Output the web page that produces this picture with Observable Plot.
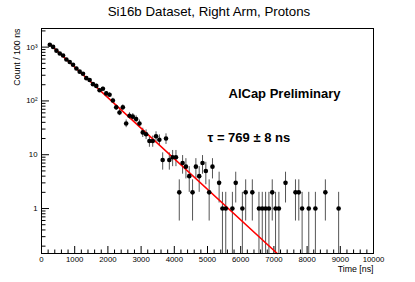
<!DOCTYPE html>
<html>
<head>
<meta charset="utf-8">
<script src="https://cdn.jsdelivr.net/npm/d3@7"></script>
<script src="https://cdn.jsdelivr.net/npm/@observablehq/plot@0.6"></script>
<style>
  html, body { margin: 0; padding: 0; background: #fff; }
  svg { display: block; }
</style>
</head>
<body>
<div id="chart"></div>
<script>
// ---- data ----
const binTime = [250,350,450,550,650,750,850,950,1050,1150,1250,1350,1450,1550,1650,1750,1850,1950,2050,2150,2250,2350,2450,2550,2650,2750,2850,2950,3050,3150,3250,3350,3450,3550,3650,3750,3850,3950,4050,4150,4250,4350,4450,4550,4650,4750,4850,4950,5050,5150,5350,5450,5550,5750,5850,6050,6150,6350,6550,6650,6750,6850,6950,7050,7150,7350,7650,7750,7850,8050,8250,8550,8950];
const binCount = [1110,1010,860,760,700,590,530,470,400,350,320,265,245,205,190,158,168,138,130,102,76,61,76,38,53,51,46,38,26,24,18,18,22,19,8,20,8,9,9,2,7,6,4,2,6,4,7,5,2,6,3,1,1,1,3,1,2,2,1,1,1,1,2,1,1,3,2,2,1,1,1,2,1];
const fitTime = [240, 7100];
const fitCount = [1150, 0.146];
const xTicksMajor = [0,1000,2000,3000,4000,5000,6000,7000,8000,9000,10000];
const xTickLabels = ["0","1000","2000","3000","4000","5000","6000","7000","8000","9000","10000"];
const yTicksMajor = [1, 10, 100, 1000];
const yTickLabels = ["1", "10", "10\u00B2", "10\u00B3"];
const titleText = "Si16b Dataset, Right Arm, Protons";
const xTitle = "Time [ns]";
const yTitle = "Count / 100 ns";
const note1 = "AlCap Preliminary";
const note2 = "\u03C4 = 769 \u00B1 8 ns";

// ---- layout ----
const W = 415, H = 282;
const mL = 41, mR = 42, mT = 28, mB = 29;
const xDomain = [0, 10000];
const yDomain = [0.146, 2218];
const font = "'Liberation Sans', Arial, Helvetica, sans-serif";

const frameW = W - mL - mR, frameH = H - mT - mB;
const pxPerDecade = frameH / (Math.log10(yDomain[1]) - Math.log10(yDomain[0]));
const yUp = (px) => yDomain[0] * Math.pow(10, px / pxPerDecade);
const xRight = (px) => xDomain[0] + px * (xDomain[1] - xDomain[0]) / frameW;

const xMinor = d3.range(0, 10001, 200).filter(v => v % 1000 !== 0);
const yMinor = [];
for (const dec of [0.1, 1, 10, 100, 1000]) for (let k = 2; k <= 9; k++) {
  const v = k * dec; if (v > yDomain[0] && v < yDomain[1]) yMinor.push(v);
}

const data = binTime.map((t, i) => ({t, n: binCount[i]}));
const fit = fitTime.map((t, i) => ({t, n: fitCount[i]}));

const chart = Plot.plot({
  width: W, height: H,
  marginLeft: mL, marginRight: mR, marginTop: mT, marginBottom: mB,
  x: {domain: xDomain, axis: null},
  y: {type: "log", domain: yDomain, axis: null},
  style: {fontFamily: font, background: "#fff"},
  marks: [
    // ticks (inside the frame, ROOT style)
    Plot.ruleX(xTicksMajor, {x: d => d, y1: yDomain[0], y2: yUp(7), stroke: "#000", strokeWidth: 1}),
    Plot.ruleX(xMinor, {x: d => d, y1: yDomain[0], y2: yUp(3.5), stroke: "#000", strokeWidth: 1}),
    Plot.ruleY(yTicksMajor, {y: d => d, x1: 0, x2: xRight(8), stroke: "#000", strokeWidth: 1}),
    Plot.ruleY(yMinor, {y: d => d, x1: 0, x2: xRight(4.5), stroke: "#000", strokeWidth: 1}),
    // error bars
    Plot.ruleX(data, {x: "t", y1: d => Math.max(d.n - Math.sqrt(d.n), yDomain[0]), y2: d => Math.min(d.n + Math.sqrt(d.n), yDomain[1]), stroke: "#555", strokeWidth: 1}),
    // fit
    Plot.line(fit, {x: "t", y: "n", stroke: "#ff0000", strokeWidth: 1.6}),
    // points
    Plot.dot(data, {x: "t", y: "n", r: 2.3, fill: "#000", stroke: "none"}),
    Plot.frame({stroke: "#000", strokeWidth: 1}),
    // tick labels
    Plot.text(xTicksMajor, {x: d => d, frameAnchor: "bottom", dy: 8, lineAnchor: "bottom", text: (d, i) => xTickLabels[i], fontSize: 7.8, fill: "#000"}),
    Plot.text(yTicksMajor, {y: d => d, frameAnchor: "left", dx: -4, textAnchor: "end", lineAnchor: "middle", text: (d, i) => yTickLabels[i], fontSize: 7.8, fill: "#000"}),
    // axis titles
    Plot.text([xTitle], {frameAnchor: "bottom-right", dy: 18.7, textAnchor: "end", lineAnchor: "bottom", fontSize: 8.8, fill: "#000"}),
    Plot.text([yTitle], {frameAnchor: "top-left", dx: -22, rotate: -90, textAnchor: "end", lineAnchor: "bottom", fontSize: 8.8, fill: "#000"}),
    // title
    Plot.text([titleText], {frameAnchor: "top", dx: 1.5, dy: -13, lineAnchor: "bottom", fontSize: 13.3, fill: "#000"}),
    // annotations
    Plot.text([note1], {frameAnchor: "top-left", dx: 187, dy: 69.5, textAnchor: "start", lineAnchor: "bottom", fontSize: 13, fontWeight: "bold", fill: "#000"}),
    Plot.text([note2], {frameAnchor: "top-left", dx: 166, dy: 113, textAnchor: "start", lineAnchor: "bottom", fontSize: 13, fontWeight: "bold", fill: "#000"})
  ]
});
document.getElementById("chart").appendChild(chart);
</script>
</body>
</html>
